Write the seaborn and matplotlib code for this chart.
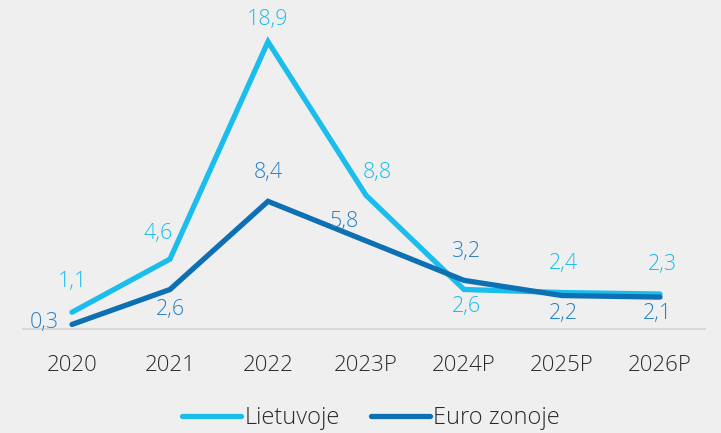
import numpy as np
import pandas as pd
import matplotlib.pyplot as plt
import seaborn as sns

# Data
years = ['2020', '2021', '2022', '2023P', '2024P', '2025P', '2026P']
lietuvoje = [1.1, 4.6, 18.9, 8.8, 2.6, 2.4, 2.3]
euro_zonoje = [0.3, 2.6, 8.4, 5.8, 3.2, 2.2, 2.1]
series_names = ['Lietuvoje', 'Euro zonoje']

# label offsets in pixels (dx, dy) per point
off_lt = [(1, 31), (-12, 26), (0, 22), (11, 23), (2, -17), (2, 29), (2, 30)]
off_eu = [(-28, 2), (0, -20), (0, 29), (-22, 19), (2, 29), (1, -18), (-2, -16)]

c_lt = '#1bbdec'
c_eu = '#0d70b3'
c_eu_txt = '#2a80c4'
bg = '#efefef'

pos = np.arange(len(years))
df = pd.DataFrame({
    'pos': np.concatenate([pos, pos]),
    'val': lietuvoje + euro_zonoje,
    'series': [series_names[0]] * len(years) + [series_names[1]] * len(years),
})

sns.set_theme(style='white')
plt.rcParams['font.family'] = ['Open Sans', 'DejaVu Sans']
plt.rcParams['font.weight'] = 'light'

fig = plt.figure(figsize=(7.21, 4.33), dpi=100, facecolor=bg)
ax = fig.add_axes([0, 104 / 433, 1, 329 / 433])
ax.set_facecolor(bg)

sns.lineplot(data=df, x='pos', y='val', hue='series', palette=[c_lt, c_eu],
             linewidth=3.8, ax=ax, legend=True, clip_on=False)
for ln in ax.lines:
    ln.set_solid_joinstyle('miter')
    ln.set_solid_capstyle('round')

ax.set_xlim(-72 / 98, 6 + 61 / 98)
ax.set_ylim(0, 329 / 15.2)

for vals, offs, col in [(lietuvoje, off_lt, c_lt), (euro_zonoje, off_eu, c_eu_txt)]:
    for i, v in enumerate(vals):
        dx, dy = offs[i]
        ax.annotate(f'{v:.1f}'.replace('.', ','), (pos[i], v),
                    xytext=(dx * 0.72, dy * 0.72), textcoords='offset points',
                    ha='center', va='center', fontsize=15.5, color=col,
                    fontweight='light')

for s in ['top', 'right', 'left']:
    ax.spines[s].set_visible(False)
ax.spines['bottom'].set_color('#d9d9d9')
ax.spines['bottom'].set_linewidth(1.5)
ax.spines['bottom'].set_bounds(-0.5, 6.46)

ax.set_yticks([])
ax.set_xticks(pos)
ax.set_xticklabels(years, fontsize=16, color='#2b2b2b', fontweight='light')
ax.tick_params(axis='x', length=0, pad=19)
ax.set_xlabel('')
ax.set_ylabel('')

handles, labels = ax.get_legend_handles_labels()
ax.legend_.remove()
leg = fig.legend(handles, labels, loc='center', bbox_to_anchor=(371 / 721, 1 - 418 / 433),
                 ncol=2, frameon=False, fontsize=17, handlelength=2.5,
                 handletextpad=0.15, columnspacing=1.3, labelcolor='#2b2b2b')
for t in leg.get_texts():
    t.set_fontweight('light')

fig.savefig('out.png', dpi=100, facecolor=bg)
